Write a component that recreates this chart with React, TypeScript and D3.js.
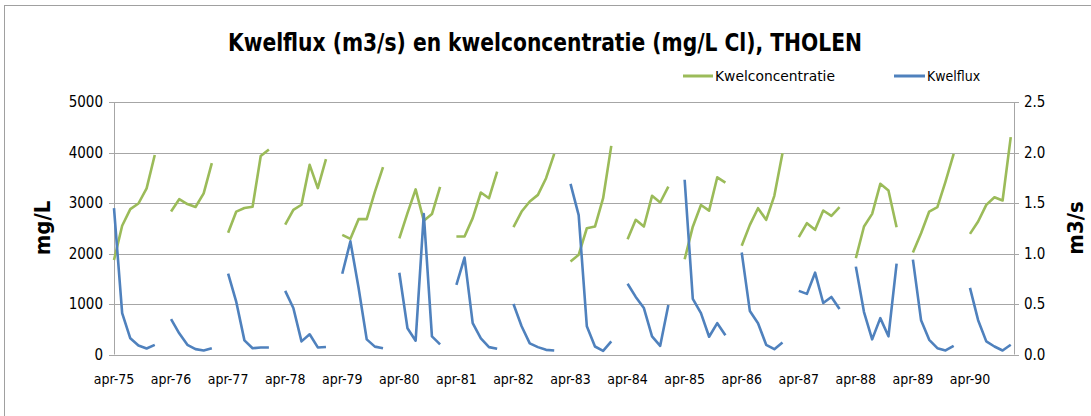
import React from "react";
import * as d3 from "d3";

const years = ["75","76","77","78","79","80","81","82","83","84","85","86","87","88","89","90"];
const months = ["apr","mei","jun","jul","aug","sep"];

// Kwelconcentratie (mg/L Cl), per year apr..sep
const concentration: number[][] = [
  [1870, 2550, 2880, 2990, 3290, 3950],
  [2830, 3075, 2980, 2920, 3190, 3790],
  [2410, 2830, 2900, 2925, 3930, 4060],
  [2570, 2865, 2965, 3755, 3295, 3870],
  [2370, 2290, 2680, 2680, 3220, 3710],
  [2300, 2800, 3270, 2650, 2780, 3320],
  [2336, 2336, 2700, 3208, 3095, 3623],
  [2521, 2831, 3030, 3161, 3491, 3973],
  [1841, 1973, 2500, 2534, 3095, 4132],
  [2284, 2666, 2534, 3142, 3010, 3326],
  [1885, 2531, 2960, 2848, 3509, 3402],
  [2152, 2567, 2897, 2666, 3142, 3986],
  [2323, 2600, 2468, 2851, 2746, 2917],
  [1907, 2534, 2785, 3379, 3247, 2521],
  [2020, 2402, 2831, 2917, 3425, 3973],
  [2389, 2633, 2963, 3115, 3049, 4303],
];

// Kwelflux (m3/s), per year apr..sep
const flux: number[][] = [
  [1.45, 0.41, 0.16, 0.09, 0.06, 0.095],
  [0.35, 0.21, 0.096, 0.053, 0.04, 0.063],
  [0.80, 0.52, 0.14, 0.062, 0.07, 0.07],
  [0.63, 0.46, 0.13, 0.20, 0.07, 0.075],
  [0.80, 1.12, 0.66, 0.15, 0.078, 0.062],
  [0.81, 0.26, 0.137, 1.39, 0.18, 0.10],
  [0.69, 0.96, 0.31, 0.16, 0.073, 0.056],
  [0.50, 0.28, 0.11, 0.073, 0.046, 0.04],
  [1.69, 1.38, 0.28, 0.079, 0.036, 0.13],
  [0.70, 0.57, 0.46, 0.18, 0.086, 0.49],
  [1.73, 0.55, 0.41, 0.176, 0.31, 0.19],
  [1.01, 0.43, 0.31, 0.096, 0.053, 0.12],
  [0.63, 0.60, 0.81, 0.51, 0.57, 0.45],
  [0.87, 0.42, 0.15, 0.36, 0.18, 0.90],
  [0.94, 0.34, 0.145, 0.063, 0.04, 0.086],
  [0.66, 0.34, 0.13, 0.079, 0.04, 0.096],
];

const leftTicks = [0, 1000, 2000, 3000, 4000, 5000];
const rightTicks = [0, 0.5, 1.0, 1.5, 2.0, 2.5];

type Pt = { i: number; v: number | null };

function buildSeries(byYear: number[][]): Pt[] {
  const out: Pt[] = [];
  byYear.forEach((vals, y) => {
    vals.forEach((v) => out.push({ i: out.length, v }));
    if (y < byYear.length - 1) out.push({ i: out.length, v: null });
  });
  return out;
}

const categories: string[] = [];
years.forEach((yy, y) => {
  months.forEach((m) => categories.push(`${m}-${yy}`));
  if (y < years.length - 1) categories.push("");
});

const FONT = "'Liberation Sans Narrow', 'Arial Narrow', 'DejaVu Sans Condensed', 'Open Sans', sans-serif";

export default function App() {
  const W = 1091, H = 416;
  const left = 114, right = 1014, top = 102, bottom = 354.5;
  const x = d3.scaleLinear().domain([0, 110.4]).range([left, right]);
  const yL = d3.scaleLinear().domain([0, 5000]).range([bottom, top]);
  const yR = d3.scaleLinear().domain([0, 2.5]).range([bottom, top]);

  const concPts = buildSeries(concentration);
  const fluxPts = buildSeries(flux);

  const lineL = d3.line<Pt>().defined((d) => d.v !== null).x((d) => x(d.i)).y((d) => yL(d.v as number));
  const lineR = d3.line<Pt>().defined((d) => d.v !== null).x((d) => x(d.i)).y((d) => yR(d.v as number));

  const green = "#9bbb59";
  const blue = "#4f81bd";
  const grid = "#a6a6a6";

  return (
    <svg width={W} height={H} style={{ position: "absolute", left: 0, top: 0, background: "#fff" }} fontFamily={FONT}>
      <rect x={4.5} y={5.5} width={W + 10} height={H + 10} fill="#fff" stroke="#a0a0a0" strokeWidth={1} />
      <text x={545} y={51} textAnchor="middle" fontSize={24} fontWeight="bold" fill="#000" textLength={634} lengthAdjust="spacingAndGlyphs">
        Kwelflux (m3/s) en kwelconcentratie (mg/L Cl), THOLEN
      </text>
      {/* legend */}
      <line x1={683} x2={713} y1={76} y2={76} stroke={green} strokeWidth={3} />
      <text x={715} y={81} fontSize={14} fill="#000" textLength={120} lengthAdjust="spacingAndGlyphs">Kwelconcentratie</text>
      <line x1={894} x2={925} y1={76} y2={76} stroke={blue} strokeWidth={3} />
      <text x={927} y={81} fontSize={14} fill="#000">Kwelflux</text>

      {/* gridlines + ticks */}
      {leftTicks.map((t) => (
        <g key={"g" + t}>
          <line x1={left - 5} x2={right + 5} y1={Math.round(yL(t)) + 0.5} y2={Math.round(yL(t)) + 0.5} stroke={grid} strokeWidth={1} />
          <text x={103} y={yL(t) + 5} textAnchor="end" fontSize={15} fill="#000">{t}</text>
        </g>
      ))}
      {rightTicks.map((t) => (
        <text key={"r" + t} x={1024} y={yR(t) + 5} textAnchor="start" fontSize={15} fill="#000">{t.toFixed(1)}</text>
      ))}
      <line x1={left + 0.5} x2={left + 0.5} y1={top} y2={bottom} stroke={grid} />
      <line x1={right + 0.5} x2={right + 0.5} y1={top} y2={bottom} stroke={grid} />

      {/* x labels */}
      {categories.map((c, i) =>
        i % 7 === 0 ? (
          <text key={"x" + i} x={x(i)} y={384} textAnchor="middle" fontSize={14} fill="#000">{c}</text>
        ) : null
      )}

      {/* axis titles */}
      <text transform={`translate(50,228) rotate(-90)`} textAnchor="middle" fontSize={22} fontWeight="bold" fill="#000">mg/L</text>
      <text transform={`translate(1083,228) rotate(-90)`} textAnchor="middle" fontSize={22} fontWeight="bold" fill="#000">m3/s</text>

      {/* series */}
      <path d={lineL(concPts) || ""} fill="none" stroke={green} strokeWidth={2.6} strokeLinejoin="round" />
      <path d={lineR(fluxPts) || ""} fill="none" stroke={blue} strokeWidth={2.6} strokeLinejoin="round" />
    </svg>
  );
}
